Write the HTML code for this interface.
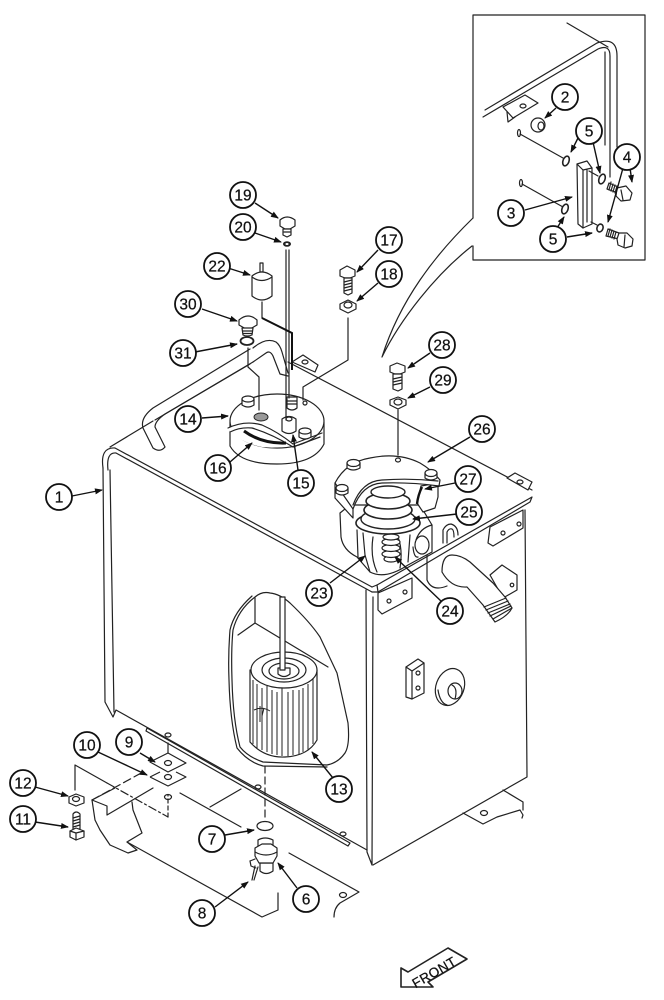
<!DOCTYPE html>
<html><head><meta charset="utf-8"><title>Hydraulic reservoir parts diagram</title>
<style>html,body{margin:0;padding:0;background:#fff}svg{display:block}
.l{fill:none;stroke:#222;stroke-width:1.2;stroke-linejoin:round;stroke-linecap:round}
.w{fill:#fff;stroke:#222;stroke-width:1.2;stroke-linejoin:round}
.d{fill:none;stroke:#222;stroke-width:1}
.a{stroke:#111;stroke-width:1.4;fill:none;marker-end:url(#h)}
.c{fill:#fff;stroke:#111;stroke-width:1.8}
text{font-family:"Liberation Sans",sans-serif;font-size:15.5px;fill:#111;text-anchor:middle;stroke:#111;stroke-width:.25}
</style></head><body>
<svg width="664" height="1000" viewBox="0 0 664 1000" xmlns="http://www.w3.org/2000/svg">
<defs><marker id="h" markerWidth="8" markerHeight="6" refX="7" refY="3" orient="auto" markerUnits="userSpaceOnUse"><path d="M0 0L8 3L0 6Z" fill="#111"/></marker></defs>

<!-- inset box -->
<path class="l" d="M473 218V15H645V260H473V246"/>
<path class="l" d="M473 218C435 255 400 300 382 357C400 320 435 275 472 246"/>
<path class="l" d="M567 23L608 47"/>
<path class="l" d="M485 110L597 43Q617 36 617 56V147"/>
<path class="l" d="M483 117L598 49Q610 44 610 56V177"/>
<path class="l" d="M605 52V145"/>
<path class="w" d="M503 107L525 95L538 103L513 118Z"/>
<path class="l" d="M507 112L508 122L515 117"/>
<ellipse class="l" cx="523" cy="106" rx="3" ry="2"/>
<ellipse class="w" cx="538" cy="125" rx="7" ry="7"/><ellipse class="l" cx="541" cy="126" rx="3" ry="4"/>
<ellipse class="l" cx="519" cy="133" rx="1.5" ry="3.5"/><path class="l" d="M520 134L563 158"/>
<ellipse class="l" cx="521" cy="183" rx="1.5" ry="3.5"/><path class="l" d="M522 184L563 207"/>
<ellipse class="w" cx="566" cy="161" rx="3" ry="5" transform="rotate(20 566 161)" style="stroke-width:1.6"/>
<ellipse class="w" cx="565" cy="209" rx="3" ry="5" transform="rotate(20 565 209)" style="stroke-width:1.6"/>
<path class="w" d="M577 164L587 161L592 168V224L583 228L578 224Z"/><path class="l" d="M583 170V228M577 164L583 170L592 168M587 170V222"/>
<path class="l" d="M589 171L598 176M591 222L597 225"/>
<ellipse class="w" cx="602" cy="179" rx="3" ry="5" transform="rotate(20 602 179)" style="stroke-width:1.6"/>
<ellipse class="w" cx="600" cy="228" rx="3" ry="4" transform="rotate(20 600 228)" style="stroke-width:1.6"/>
<path class="l" d="M609 183L618 187V193L607 189ZM611 182L609 190M613 184L611 191M615 185L613 192M617 186L615 193"/>
<path class="l" d="M608 229L619 233V239L606 236ZM610 229L608 236M612 230L610 237M614 231L612 238M616 232L614 239"/>
<path class="w" d="M617 188L626 186L632 193L630 200L621 201L616 196Z"/><path class="l" d="M621 190L623 200"/>
<path class="w" d="M619 233L627 233L633 239L632 246L625 248L618 245L617 239Z"/><path class="l" d="M625 235L624 247"/>

<!-- tank front panel + top -->
<path class="l" d="M103 468Q100 447 115 448L372 587"/>
<path class="l" d="M108 470Q106 452 116 453L372 592"/>
<path class="l" d="M103 468L105 702L113 717L116 710L367 850"/>
<path class="l" d="M110 470L114 712"/>
<path class="l" d="M110 447L153 421M155 420L253 362"/>
<path class="l" d="M366 590L367 852L372 865L373 597"/>
<path class="l" d="M373 865L527 777L525 510"/>
<path class="l" d="M377 585L532 497L530 502L378 592L377 585"/>
<path class="l" d="M372 587L377 585M372 592L378 592"/>
<path class="l" d="M288 362L532 490"/>
<path class="w" d="M292 362L303 355L318 365L315 372Z"/><ellipse class="l" cx="305" cy="362" rx="3" ry="2"/>
<path class="w" d="M507 478L515 473L532 482L528 490Z"/><ellipse class="l" cx="520" cy="482" rx="3" ry="2"/>
<!-- top hose -->
<path class="l" d="M253 348Q266 337 276 342Q280 345 282 352L288 373"/>
<path class="l" d="M253 362L266 353Q270 350 273 356L280 374L288 376"/>
<path class="l" d="M250 349L153 408Q140 418 143 428L153 448Q160 453 165 447L155 427Q155 421 165 414L250 364"/>

<!-- brackets under plate -->
<path class="w" d="M378 593L412 578V598L382 614L378 610Z"/><circle class="l" cx="389" cy="601" r="2"/><circle class="l" cx="405" cy="592" r="2"/>
<path class="w" d="M490 527L523 510V528L493 546L488 543Z"/><circle class="l" cx="503" cy="533" r="2"/><circle class="l" cx="519" cy="524" r="2"/>
<!-- elbow -->
<path class="l" d="M427 552V580Q432 592 447 586"/>
<path class="w" d="M490 575L502 565L517 575V590L503 598Z"/><circle class="l" cx="512" cy="585" r="1.8"/>
<path class="w" d="M442 572Q442 555 452 555Q461 555 470 562L493 583L505 597L512 608Q508 616 495 622L483 605L467 587Q451 588 442 572Z"/>
<path class="l" d="M484 607L506 598M486 610L508 601M488 613L510 604M490 616L511 606M493 619L512 608"/>
<path class="l" d="M443 543V530Q446 524 451 524Q458 526 458 535M447 543V532Q449 528 452 529Q454 530 454 537"/>
<!-- small side block and disk -->
<path class="w" d="M406 667L418 659L424 663V693L412 699L406 697Z"/><path class="l" d="M406 667L412 671V699M412 671L424 663"/>
<circle class="l" cx="418" cy="673" r="2"/><circle class="l" cx="418" cy="688" r="2"/>
<ellipse class="w" cx="450" cy="687" rx="14" ry="19" transform="rotate(20 450 687)"/>
<path class="l" d="M438 690Q440 703 447 705"/>
<ellipse class="w" cx="455" cy="691" rx="7" ry="8"/><path class="l" d="M452 685Q458 688 455 699"/>
<!-- foot right -->
<path class="l" d="M463 813L483 824L497 817L520 810L523 815L522 818M523 802V810M503 790L523 802"/>
<ellipse class="l" cx="484" cy="813" rx="3.5" ry="2.5"/>

<!-- window -->
<path class="w" d="M255 597Q262 591 270 593Q280 594 290 603Q310 622 320 637L337 673L348 723Q350 745 345 753Q338 763 327 765L263 762Q248 757 240 747Q233 720 232 680Q231 650 233 630Q238 610 255 597Z"/>
<path class="l" d="M252 596Q234 612 230 630Q228 655 229 680Q230 720 237 748Q248 762 263 766L327 767"/>
<path class="l" d="M255 598V623M238 635L255 623L328 667"/>
<!-- filter -->
<path class="w" d="M250 670V742Q264 758 285 757Q308 756 317 740V670Z"/>
<path class="d" d="M253 680V744M257 684V748M262 688V750M267 686V752M272 690V754M277 692V755M282 688V756M288 692V756M293 690V755M299 690V754M303 688V752M308 684V750M313 678V744"/>
<path class="d" d="M254 710Q262 706 270 711M260 706V722M264 708L262 716"/>
<ellipse class="w" cx="284" cy="670" rx="33" ry="18"/>
<ellipse class="l" cx="284" cy="670" rx="22" ry="12"/>
<ellipse class="l" cx="284" cy="671" rx="15" ry="8"/>
<path class="w" d="M278 668H290V674Q284 679 278 674Z"/>
<path class="w" d="M280 597H285V670H280Z"/>

<!-- disk 14 -->
<path class="w" d="M230 422V446Q240 464 277 464Q314 464 324 444V422Z"/>
<ellipse class="w" cx="277" cy="421" rx="47" ry="27"/>
<path class="w" d="M228 428Q240 422 257 423Q275 428 293 444Q280 449 262 447Q245 444 230 432Z" style="stroke:none"/>
<path class="l" d="M228 428Q245 420 262 425Q278 432 293 444L322 433"/>
<path class="l" d="M230 432Q240 427 252 428Q272 434 293 447L320 437"/>
<path d="M244 431Q262 444 286 443" fill="none" stroke="#111" stroke-width="3"/>
<path class="w" d="M242 399V405Q248 409 254 405V399Z"/><ellipse class="w" cx="248" cy="399" rx="6" ry="3"/>
<ellipse cx="261" cy="417" rx="7" ry="4" fill="#999" stroke="#222"/>
<path class="w" d="M287 397H297V408Q292 412 287 408Z"/><path class="l" d="M287 401H297M287 404H297"/>
<circle class="l" cx="305" cy="403" r="2"/>
<path class="w" d="M282 419Q289 414 296 419V431Q289 436 282 431Z"/><ellipse class="l" cx="289" cy="419" rx="3" ry="2"/>
<path class="w" d="M299 431V437Q305 441 311 437V431Z"/><ellipse class="w" cx="305" cy="431" rx="6" ry="3"/>
<path class="l" d="M286 250V420M289 250V398"/>

<!-- reservoir filter head -->
<path class="w" d="M340 513L341 537Q343 550 357 557L370 572Q385 580 408 565L432 552V525L420 505H350Z"/>
<path class="l" d="M357 530L358 557M363 533L365 555L370 572M373 537Q370 557 377 572M398 537Q403 550 400 568M410 535L408 562"/>
<path class="l" d="M413 547Q414 558 418 557M432 525Q420 528 416 540"/>
<ellipse class="l" cx="422" cy="545" rx="7" ry="9"/>
<!-- small spring -->
<ellipse class="w" cx="391" cy="559" rx="7" ry="3"/>
<ellipse class="w" cx="391" cy="554" rx="9" ry="3.5"/>
<ellipse class="w" cx="391" cy="548" rx="9" ry="3.5"/>
<ellipse class="w" cx="391" cy="542" rx="9" ry="3.5"/>
<ellipse class="w" cx="391" cy="537" rx="8" ry="3"/>
<!-- cup + large spring -->
<ellipse class="w" cx="388" cy="523" rx="32" ry="11" style="stroke-width:1.6"/>
<ellipse class="w" cx="388" cy="519" rx="27" ry="10" style="stroke-width:1.4"/>
<ellipse class="w" cx="388" cy="510" rx="24" ry="9" style="stroke-width:1.6"/>
<ellipse class="w" cx="388" cy="501" rx="22" ry="8" style="stroke-width:1.6"/>
<ellipse class="w" cx="388" cy="492" rx="17" ry="6" style="stroke-width:1.4"/>
<!-- right lobe + cover crescent -->
<path class="w" d="M438 483V497L435 508L423 512L417 503L421 486Z"/>
<path class="w" d="M335 483V498L353 518V509Q362 484 382 483Q410 482 439 486L440 480Q432 470 420 463Q398 452 370 458Q346 462 335 483Z"/>
<path class="l" d="M353 509L335 483M353 505Q362 481 382 480Q410 478 438 481"/>
<path d="M422 487Q418 495 417 504" fill="none" stroke="#111" stroke-width="2.4"/>
<ellipse class="l" cx="398" cy="460" rx="2.5" ry="2"/>
<path class="w" d="M347 463V468Q353 472 360 468V463Z"/><ellipse class="w" cx="353.500" cy="463" rx="6.500" ry="3.500"/>
<path class="w" d="M425 473V478Q431 482 437 478V473Z"/><ellipse class="w" cx="431" cy="473" rx="6" ry="3.500"/>
<path class="w" d="M336 488V493Q342 497 348 493V488Z"/><ellipse class="w" cx="342" cy="488" rx="6" ry="3.500"/>

<!-- exploded top parts -->
<path class="w" d="M280 220Q287 214 295 220V226L290 229H285L280 226Z"/><path class="w" d="M283 229H291V235L287 237L283 235Z"/><path class="l" d="M284 232H290"/>
<ellipse cx="287" cy="244" rx="4" ry="2.8" fill="#222"/><ellipse cx="287" cy="244" rx="1.6" ry="1" fill="#fff"/>
<path class="w" d="M260 263H263V272H260Z"/>
<path class="w" d="M252 276Q262 268 272 276V296Q262 304 252 296Z"/><path class="l" d="M252 277Q262 284 272 277"/>
<path class="l" d="M262 302V318"/><path d="M262 318L292 333V370" fill="none" stroke="#111" stroke-width="2"/>
<path class="w" d="M239 320Q248 312 257 320V325L250 329H246L239 325Z"/><path class="w" d="M242 328H253L252 335Q247 337 243 335Z"/><path class="l" d="M243 331H252M243 333.500H252"/>
<ellipse class="l" cx="247" cy="341" rx="6.500" ry="4" style="stroke-width:1.8"/>
<path class="l" d="M248 348V367L259 377V410"/>
<path class="w" d="M340 270L347 266L355 270V276L350 278H345L340 276Z"/><path class="w" d="M344 278H352V293L348 295L344 293Z"/><path class="l" d="M344 282L352 280M344 285L352 283M344 288L352 286M344 291L352 289"/>
<path class="w" d="M340 304L348 300L356 304V309L348 313L340 309Z"/><ellipse class="l" cx="348" cy="305" rx="4" ry="3"/>
<path class="l" d="M348 318V360L303 387V400"/>
<path class="w" d="M390 366L397 363L405 366V372L400 374H395L390 372Z"/><path class="w" d="M393 374H402V389L398 391L393 389Z"/><path class="l" d="M393 379L402 377M393 382L402 380M393 385L402 383"/>
<path class="w" d="M390 400L398 397L406 400V405L398 409L390 405Z"/><ellipse class="l" cx="398" cy="402" rx="4" ry="3"/>
<path class="l" d="M398 410V455"/>

<!-- lower left structure -->
<path class="w" d="M147 728L350 843L348 846L146 731Z"/>
<ellipse class="l" cx="168" cy="735" rx="3" ry="2"/><ellipse class="l" cx="258" cy="787" rx="3" ry="2"/><ellipse class="l" cx="343" cy="834" rx="3" ry="2"/>
<path class="l" d="M265 766V820" style="stroke-dasharray:7 4"/>
<path class="l" d="M75 790V765L107 783" /><path class="l" d="M107 783L168 817" style="stroke-dasharray:8 3 2 3"/>
<path class="l" d="M168 817V795" style="stroke-dasharray:4 3"/>
<path class="l" d="M92 800L143 772" style="stroke-dasharray:8 4"/>
<path class="l" d="M92 800L115 788"/>
<path class="l" d="M107 815L153 788M92 800L107 806L107 815"/>
<path class="l" d="M92 800L95 820L100 830L110 845L128 853L137 850L127 842L142 833L133 810L132 802"/>
<path class="l" d="M127 842L262 917L278 910V893"/>
<path class="l" d="M180 793L241 827M210 807L241 789"/>
<path class="l" d="M289 853L359 892L340 903Q334 908 334 917"/>
<ellipse class="l" cx="343" cy="895" rx="3.500" ry="2.500"/>
<path class="l" d="M168 743V753"/>
<path class="w" d="M150 762L168 753L186 763L168 772Z"/><ellipse class="l" cx="168" cy="763" rx="3.500" ry="2.500"/>
<path class="w" d="M150 777L160 772M176 772L186 777L168 786L150 777" /><ellipse class="l" cx="168" cy="777" rx="3.500" ry="2.500"/>
<ellipse class="l" cx="168" cy="797" rx="3.500" ry="2.500"/>
<path class="w" d="M69 797L76 794L84 797V803L76 806L69 803Z"/><ellipse class="l" cx="76" cy="799" rx="3.500" ry="2.500"/>
<path class="w" d="M73 814Q76 810 80 814V829H73Z"/><path class="l" d="M73 818L80 816M73 821L80 819M73 824L80 822M73 827L80 825"/>
<path class="w" d="M70 831L76 828L84 831V837L76 840L70 837Z"/><path class="l" d="M76 833V840M70 831L76 833L84 831"/>
<!-- drain -->
<ellipse class="l" cx="265" cy="826" rx="8" ry="4.500"/>
<path class="w" d="M258 840Q265 836 273 840V847H258Z"/>
<path class="w" d="M260 863H273V871Q266 876 260 871Z"/>
<path class="w" d="M255 848L262 844H271L277 848V856L273 863H259L255 856Z"/><path class="l" d="M255 852Q266 858 277 852"/>
<path class="l" d="M250 861L255 859M250 861L251 866L256 868M255 866L252 880M258 867L254 880"/>

<!-- FRONT arrow -->
<path class="w" d="M401 968V987H433L428 982L467 959L448 948L408 972Z" style="stroke-width:1.6"/>
<text transform="translate(434 972) rotate(-30)" style="font-size:13.500px;letter-spacing:.4px" y="5">FRONT</text>

<!-- leader arrows -->
<path class="a" d="M556 108L545 118"/><path class="a" d="M578 138L571 152"/><path class="a" d="M593 142L600 173"/>
<path class="a" d="M623 168L608 222"/><path class="a" d="M630 168L632 182"/><path class="a" d="M525 210L572 197"/>
<path class="a" d="M557 228L564 217"/><path class="a" d="M567 237L592 233"/>
<path class="a" d="M202 418L228 416"/><path class="a" d="M230 462L252 443"/><path class="a" d="M298 470L293 435"/>
<path class="a" d="M195 352L237 344"/><path class="a" d="M202 309L237 321"/><path class="a" d="M228 268L250 275"/>
<path class="a" d="M255 203L278 218"/><path class="a" d="M255 233L281 242"/><path class="a" d="M378 250L357 272"/>
<path class="a" d="M378 283L357 301"/><path class="a" d="M430 353L408 368"/><path class="a" d="M430 387L408 398"/>
<path class="a" d="M470 437L428 462"/><path class="a" d="M455 483L425 489"/><path class="a" d="M457 514L413 519"/>
<path class="a" d="M330 583L365 556"/><path class="a" d="M442 602L395 557"/><path class="a" d="M72 496L102 490"/>
<path class="a" d="M333 778L312 752"/><path class="a" d="M98 752L147 775"/><path class="a" d="M140 753L155 762"/>
<path class="a" d="M35 787L68 796"/><path class="a" d="M35 822L68 827"/><path class="a" d="M225 835L254 830"/>
<path class="a" d="M215 907L248 882"/><path class="a" d="M297 888L278 863"/>

<!-- labels -->
<g>
<circle class="c" cx="59" cy="497" r="13"/><text x="59" y="502.500">1</text>
<circle class="c" cx="565" cy="97" r="13"/><text x="565" y="102.500">2</text>
<circle class="c" cx="511" cy="213" r="13"/><text x="511" y="218.500">3</text>
<circle class="c" cx="627" cy="157" r="13"/><text x="627" y="162.500">4</text>
<circle class="c" cx="589" cy="131" r="13"/><text x="589" y="136.500">5</text>
<circle class="c" cx="553" cy="239" r="13"/><text x="553" y="244.500">5</text>
<circle class="c" cx="306" cy="899" r="13"/><text x="306" y="904.500">6</text>
<circle class="c" cx="212" cy="839" r="13"/><text x="212" y="844.500">7</text>
<circle class="c" cx="202" cy="913" r="13"/><text x="202" y="918.500">8</text>
<circle class="c" cx="129" cy="742" r="13"/><text x="129" y="747.500">9</text>
<circle class="c" cx="87" cy="745" r="13"/><text x="87" y="750.500">10</text>
<circle class="c" cx="23" cy="819" r="13"/><text x="23" y="824.500">11</text>
<circle class="c" cx="23" cy="783" r="13"/><text x="23" y="788.500">12</text>
<circle class="c" cx="339" cy="789" r="13"/><text x="339" y="794.500">13</text>
<circle class="c" cx="188" cy="419" r="13"/><text x="188" y="424.500">14</text>
<circle class="c" cx="301" cy="483" r="13"/><text x="301" y="488.500">15</text>
<circle class="c" cx="218" cy="468" r="13"/><text x="218" y="473.500">16</text>
<circle class="c" cx="389" cy="240" r="13"/><text x="389" y="245.500">17</text>
<circle class="c" cx="389" cy="274" r="13"/><text x="389" y="279.500">18</text>
<circle class="c" cx="243" cy="195" r="13"/><text x="243" y="200.500">19</text>
<circle class="c" cx="243" cy="227" r="13"/><text x="243" y="232.500">20</text>
<circle class="c" cx="217" cy="266" r="13"/><text x="217" y="271.500">22</text>
<circle class="c" cx="319" cy="593" r="13"/><text x="319" y="598.500">23</text>
<circle class="c" cx="450" cy="611" r="13"/><text x="450" y="616.500">24</text>
<circle class="c" cx="469" cy="512" r="13"/><text x="469" y="517.500">25</text>
<circle class="c" cx="482" cy="429" r="13"/><text x="482" y="434.500">26</text>
<circle class="c" cx="468" cy="479" r="13"/><text x="468" y="484.500">27</text>
<circle class="c" cx="442" cy="345" r="13"/><text x="442" y="350.500">28</text>
<circle class="c" cx="443" cy="380" r="13"/><text x="443" y="385.500">29</text>
<circle class="c" cx="188" cy="304" r="13"/><text x="188" y="309.500">30</text>
<circle class="c" cx="183" cy="353" r="13"/><text x="183" y="358.500">31</text>
</g>
</svg>
</body></html>
